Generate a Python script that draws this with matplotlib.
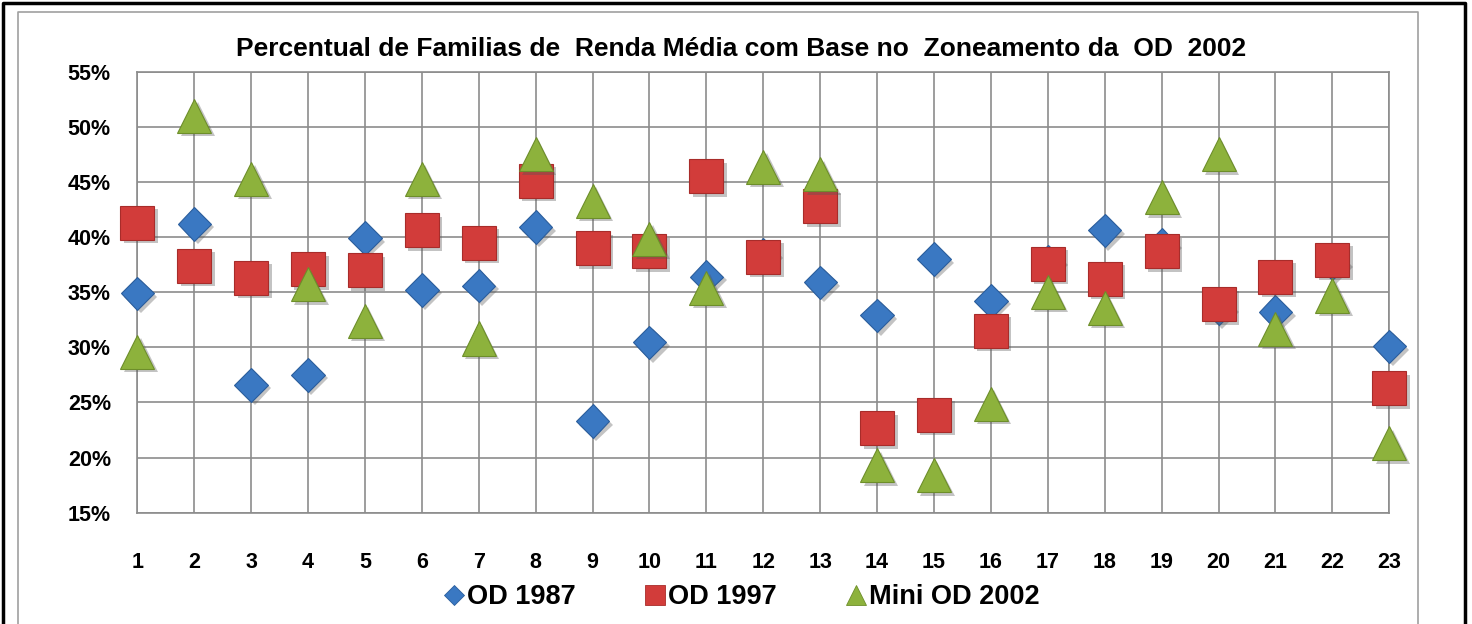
import matplotlib
matplotlib.use("Agg")
import matplotlib.pyplot as plt
import matplotlib.patheffects as pe
from matplotlib.lines import Line2D
from matplotlib.ticker import PercentFormatter, MultipleLocator

plt.rcParams['font.family'] = ['Liberation Sans', 'DejaVu Sans']
plt.rcParams['font.weight'] = 'bold'

# zones 1..23 and the share of middle-income families (%)
zones = list(range(1, 24))
od_1987 = [34.9, 41.2, 26.6, 27.5, 39.9, 35.2, 35.6, 40.9, 23.3, 30.45, 36.4, 38.4,
           35.9, 32.9, 38.0, 34.2, 37.8, 40.6, 39.3, 33.5, 33.2, 37.6, 30.1]
od_1997 = [41.3, 37.4, 36.3, 37.1, 37.0, 40.6, 39.5, 45.1, 39.0, 38.7, 45.5, 38.2,
           42.8, 22.65, 23.9, 31.5, 37.6, 36.2, 38.7, 33.9, 36.4, 37.95, 26.3]
mini_od_2002 = [29.6, 51.0, 45.3, 35.7, 32.4, 45.3, 30.8, 47.5, 43.3, 39.85, 35.4, 46.4,
                45.7, 19.3, 18.4, 24.9, 35.05, 33.6, 43.6, 47.5, 31.7, 34.7, 21.3]
series_names = ['OD 1987', 'OD 1997', 'Mini OD 2002']

W, H = 1472, 624
fig = plt.figure(figsize=(W / 100, H / 100), dpi=100)
ax = fig.add_axes([137.3 / W, 1 - 512.7 / H, (1389.3 - 137.3) / W, (512.7 - 71.7) / H])

shadow = [pe.SimplePatchShadow(offset=(2.5, -2.5), shadow_rgbFace='#555555', alpha=0.35), pe.Normal()]

styles = [
    (od_1987, 'D', 17, '#3a78c2', '#2a5d9c'),
    (od_1997, 's', 24.5, '#d23c3a', '#a82c2a'),
    (mini_od_2002, '^', 24.5, '#8db23c', '#6d8e2a'),
]
handles = []
for (vals, mk, ms, fc, ec), name in zip(styles, series_names):
    ln, = ax.plot(zones, [v / 100 for v in vals], linestyle='none', marker=mk, markersize=ms,
                  markerfacecolor=fc, markeredgecolor=ec, markeredgewidth=0.8,
                  clip_on=False, zorder=3, path_effects=shadow)
    handles.append(Line2D([], [], linestyle='none', marker=mk, markersize=ms * 0.6,
                          markerfacecolor=fc, markeredgecolor=ec, markeredgewidth=0.6, label=name))

ax.set_xlim(1, 23)
ax.set_ylim(0.15, 0.55)
ax.set_xticks(zones)
ax.yaxis.set_major_locator(MultipleLocator(0.05))
ax.yaxis.set_major_formatter(PercentFormatter(1.0, decimals=0))
ax.grid(True, color='#8c8c8c', linewidth=1.2)
ax.set_axisbelow(True)
for s in ax.spines.values():
    s.set_color('#8c8c8c')
    s.set_linewidth(1.2)
ax.tick_params(axis='both', length=0, labelsize=15.5)
ax.tick_params(axis='x', pad=28)
ax.tick_params(axis='y', pad=19)

fig.text(741.5 / W, 1 - 49 / H, 'Percentual de Familias de  Renda Média com Base no  Zoneamento da  OD  2002',
         ha='center', va='center', fontsize=19, fontweight='bold')

fig.legend(handles=handles, loc='center', bbox_to_anchor=(740 / W, 1 - 597 / H), ncol=3,
           frameon=False, fontsize=19.5, handletextpad=0.0, columnspacing=2.4, handlelength=1.0)

# chart frames (open at the bottom, as in the cropped reference)
fig.add_artist(Line2D([3 / W, 3 / W, 1465 / W, 1465 / W], [0, 1 - 3 / H, 1 - 3 / H, 0],
                      color='black', linewidth=2.5))
fig.add_artist(Line2D([18 / W, 18 / W, 1418 / W, 1418 / W], [0, 1 - 11.7 / H, 1 - 11.7 / H, 0],
                      color='#a0a0a0', linewidth=1.2))

fig.savefig('out.png', dpi=100)
